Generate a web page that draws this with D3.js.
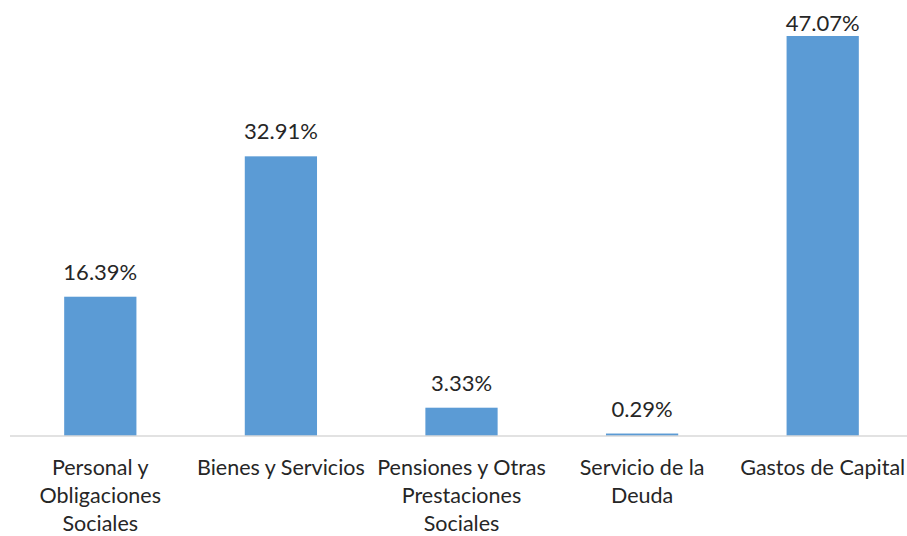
<!DOCTYPE html>
<meta charset="utf-8">
<script src="https://cdn.jsdelivr.net/npm/d3@7"></script>
<style>
body { margin: 0; background: #fff; }
text { font-family: Lato, "Open Sans", sans-serif; fill: #262626; }
.bar { fill: #5b9bd5; }
.axis-line { stroke: #d9d9d9; stroke-width: 1.5px; }
</style>
<body>
<script>

// chart values
var categories = [
  ["Personal y", "Obligaciones", "Sociales"],
  ["Bienes y Servicios"],
  ["Pensiones y Otras", "Prestaciones", "Sociales"],
  ["Servicio de la", "Deuda"],
  ["Gastos de Capital"]
];
var values = [16.39, 32.91, 3.33, 0.29, 47.07];
var valueLabels = ["16.39%", "32.91%", "3.33%", "0.29%", "47.07%"];

var width = 907,
    height = 536;
var margin = {left: 10, right: -6, top: 36, bottom: 100};

var svg = d3.select("body").append("svg")
    .attr("width", width)
    .attr("height", height);

var x = d3.scaleBand()
    .domain(d3.range(values.length))
    .range([margin.left, width - margin.right])
    .padding(0);

var y = d3.scaleLinear()
    .domain([0, 47.07])
    .range([height - margin.bottom, margin.top]);

var barW = x.bandwidth() * 0.4;

// bars
svg.append("g")
    .selectAll("rect")
    .data(values)
    .enter()
    .append("rect")
    .attr("class", "bar")
    .attr("x", function(d, i) { return x(i) + (x.bandwidth() - barW) / 2; })
    .attr("y", function(d) { return y(d); })
    .attr("width", barW)
    .attr("height", function(d) { return y(0) - y(d); });

// baseline
svg.append("line")
    .attr("class", "axis-line")
    .attr("x1", margin.left)
    .attr("x2", width)
    .attr("y1", y(0))
    .attr("y2", y(0));

// value labels (pushed down when they would leave the top)
svg.append("g")
    .selectAll("text")
    .data(values)
    .enter()
    .append("text")
    .attr("x", function(d, i) { return x(i) + x.bandwidth() / 2; })
    .attr("y", function(d) { return Math.max(y(d) - 17, 31); })
    .attr("text-anchor", "middle")
    .style("font-size", "22px")
    .text(function(d, i) { return valueLabels[i]; });

// category labels
var cat = svg.append("g")
    .selectAll("text")
    .data(categories)
    .enter()
    .append("text")
    .attr("text-anchor", "middle")
    .style("font-size", "21.5px");

cat.selectAll("tspan")
    .data(function(d, i) { return d.map(function(s) { return {s: s, i: i}; }); })
    .enter()
    .append("tspan")
    .attr("x", function(d) { return x(d.i) + x.bandwidth() / 2; })
    .attr("y", function(d, j) { return y(0) + 39 + j * 28; })
    .text(function(d) { return d.s; });

</script>
</body>
